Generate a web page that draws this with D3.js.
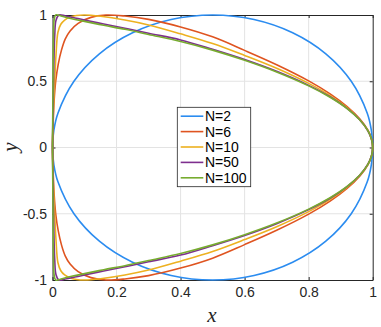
<!DOCTYPE html>
<html><head><meta charset="utf-8">
<script src="https://cdn.jsdelivr.net/npm/d3@7"></script>
<style>html,body{margin:0;padding:0;background:#fff;}svg{display:block;}</style>
</head><body><div id="chart"></div>
<script>
// ---- data (upper branches; the lower branch is the mirror image) ----
const seriesNames = ["N=2", "N=6", "N=10", "N=50", "N=100"];
const seriesColors = ["#2b8cf0", "#df5420", "#edb120", "#7e2f8e", "#77ac30"];
const upperN2 = [[0,0],[0.0043,0.1305],[0.017,0.2588],[0.067,0.5],[0.1464,0.7071],[0.25,0.866],[0.3706,0.9659],[0.5,1],[0.6294,0.9659],[0.75,0.866],[0.8536,0.7071],[0.933,0.5],[0.983,0.2588],[0.9957,0.1305],[1,0]];
const upperN6 = [[0,0],[0.002,0.18],[0.005,0.35],[0.01,0.5],[0.018,0.63],[0.028,0.735],[0.04,0.82],[0.055,0.88],[0.08,0.937],[0.12,0.982],[0.167,1.0],[0.226,0.992],[0.3,0.967],[0.4,0.91],[0.5,0.835],[0.6,0.733],[0.7,0.625],[0.8,0.503],[0.867,0.405],[0.92,0.309],[0.96,0.215],[0.985,0.131],[0.996,0.067],[1,0]];
const upperN10 = [[0,0],[0.001,0.15],[0.004,0.36],[0.007,0.51],[0.011,0.7],[0.017,0.87],[0.026,0.93],[0.038,0.962],[0.055,0.985],[0.075,0.996],[0.1,1.0],[0.15,0.99],[0.226,0.962],[0.3,0.925],[0.4,0.858],[0.5,0.785],[0.6,0.695],[0.7,0.598],[0.8,0.484],[0.867,0.392],[0.92,0.301],[0.96,0.21],[0.985,0.128],[0.996,0.065],[1,0]];
const upperN50 = [[0,0],[0.002,0.3],[0.004,0.6],[0.007,0.85],[0.011,0.96],[0.02,1.0],[0.04,0.993],[0.07,0.978],[0.1,0.962],[0.16,0.932],[0.226,0.9],[0.3,0.862],[0.4,0.812],[0.5,0.741],[0.6,0.664],[0.7,0.575],[0.8,0.469],[0.867,0.383],[0.92,0.295],[0.96,0.207],[0.985,0.126],[0.996,0.064],[1,0]];
const upperN100 = [[0,0],[0.001,0.3],[0.002,0.6],[0.003,0.85],[0.005,0.96],[0.01,1.0],[0.03,0.99],[0.06,0.972],[0.1,0.952],[0.16,0.922],[0.226,0.892],[0.3,0.853],[0.4,0.8],[0.5,0.735],[0.6,0.658],[0.7,0.57],[0.8,0.465],[0.867,0.379],[0.92,0.294],[0.96,0.208],[0.985,0.127],[0.996,0.066],[1,0]];
const xTicks = [0, 0.2, 0.4, 0.6, 0.8, 1];
const xTickLabels = ["0", "0.2", "0.4", "0.6", "0.8", "1"];
const yTicks = [-1, -0.5, 0, 0.5, 1];
const yTickLabels = ["-1", "-0.5", "0", "0.5", "1"];
const uppers = [upperN2, upperN6, upperN10, upperN50, upperN100];

// ---- layout ----
const W = 381, H = 327;
const L = 52.5, R = 372.7, T = 15, B = 280;
const axisColor = "#262626";
const font = "'Liberation Sans', Arial, Helvetica, sans-serif";

const svg = d3.select("#chart").append("svg").attr("width", W).attr("height", H)
  .style("background", "#fff");

const x = d3.scaleLinear().domain([0, 1]).range([L, R]);
const y = d3.scaleLinear().domain([-1, 1]).range([B, T]);

// grid
const grid = svg.append("g").attr("stroke", "#e3e3e3").attr("stroke-width", 1);
xTicks.slice(1, -1).forEach(v => grid.append("line")
  .attr("x1", x(v)).attr("x2", x(v)).attr("y1", T).attr("y2", B));
yTicks.slice(1, -1).forEach(v => grid.append("line")
  .attr("y1", y(v)).attr("y2", y(v)).attr("x1", L).attr("x2", R));

// axes (inward ticks, MATLAB style)
function styleAxis(g) {
  g.select(".domain").attr("stroke", axisColor).attr("stroke-width", 1);
  g.selectAll(".tick line").attr("stroke", axisColor).attr("stroke-width", 1);
  g.selectAll(".tick text").attr("fill", axisColor).style("font-family", font).style("font-size", "14px");
}
svg.append("g").attr("transform", `translate(0,${B})`)
  .call(d3.axisBottom(x).tickValues(xTicks).tickFormat((d, i) => xTickLabels[i]).tickSizeInner(-3).tickSizeOuter(0).tickPadding(7))
  .call(styleAxis);
svg.append("g").attr("transform", `translate(0,${T})`)
  .call(d3.axisTop(x).tickValues(xTicks).tickFormat("").tickSizeInner(-3).tickSizeOuter(0))
  .call(styleAxis);
svg.append("g").attr("transform", `translate(${L},0)`)
  .call(d3.axisLeft(y).tickValues(yTicks).tickFormat((d, i) => yTickLabels[i]).tickSizeInner(-3).tickSizeOuter(0).tickPadding(5.5))
  .call(styleAxis);
svg.append("g").attr("transform", `translate(${R},0)`)
  .call(d3.axisRight(y).tickValues(yTicks).tickFormat("").tickSizeInner(-3).tickSizeOuter(0))
  .call(styleAxis);

// curves
const line = d3.line().x(d => x(d[0])).y(d => y(d[1])).curve(d3.curveCatmullRomClosed.alpha(0.5));
uppers.forEach((up, i) => {
  const lower = up.slice(1, -1).reverse().map(p => [p[0], -p[1]]);
  const pts = up.concat(lower);
  svg.append("path").attr("d", line(pts)).attr("fill", "none")
    .attr("stroke", seriesColors[i]).attr("stroke-width", 1.6).attr("stroke-linejoin", "round");
});

// axis labels
svg.append("text").attr("x", 212).attr("y", 322).attr("text-anchor", "middle")
  .style("font-family", "'Liberation Serif', 'DejaVu Serif', serif").style("font-style", "italic")
  .style("font-size", "21px").attr("fill", axisColor).text("x");
svg.append("text").attr("transform", "translate(17,147) rotate(-90)").attr("text-anchor", "middle")
  .style("font-family", "'Liberation Serif', 'DejaVu Serif', serif").style("font-style", "italic")
  .style("font-size", "21px").attr("fill", axisColor).text("y");

// legend
const lg = svg.append("g");
lg.append("rect").attr("x", 177.3).attr("y", 107.3).attr("width", 73.4).attr("height", 79.4)
  .attr("fill", "#fff").attr("stroke", axisColor).attr("stroke-width", 0.8);
seriesNames.forEach((name, i) => {
  const yy = 116.2 + i * 15.4;
  lg.append("line").attr("x1", 180.7).attr("x2", 203.3).attr("y1", yy).attr("y2", yy)
    .attr("stroke", seriesColors[i]).attr("stroke-width", 1.6);
  lg.append("text").attr("x", 205).attr("y", yy).attr("dy", "0.36em")
    .style("font-family", font).style("font-size", "14px").attr("fill", "#000").text(name);
});
</script></body></html>
